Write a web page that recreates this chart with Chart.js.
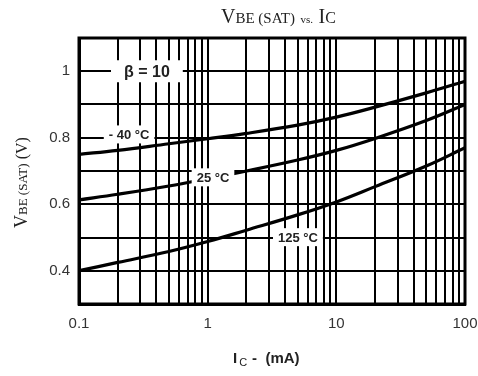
<!DOCTYPE html>
<html>
<head>
<meta charset="utf-8">
<script src="https://cdn.jsdelivr.net/npm/chart.js@4/dist/chart.umd.min.js"></script>
<style>
html,body{margin:0;padding:0;background:#fff;}
#wrap{width:478px;height:376px;position:relative;}
</style>
</head>
<body>
<div id="wrap"><canvas id="c" width="478" height="376"></canvas></div>
<script>
// ---- data ----
const currents   = [0.1, 0.2, 0.5, 1, 2, 5, 10, 20, 50, 100];          // IC (mA)
const vbeMinus40 = [0.75, 0.762, 0.782, 0.797, 0.813, 0.838, 0.862, 0.892, 0.935, 0.97];
const vbe25      = [0.613, 0.63, 0.655, 0.677, 0.70, 0.733, 0.762, 0.798, 0.852, 0.90];
const vbe125     = [0.40, 0.425, 0.458, 0.488, 0.522, 0.568, 0.607, 0.653, 0.715, 0.77];
const xTickLabels = [0.1, 1, 10, 100];
const yTickLabels = [0.4, 0.6, 0.8, 1];
const curveLabels = ['- 40 °C', '25 °C', '125 °C'];
const curveLabelIc = [0.245, 1.1, 5.03];
const curveLabelV  = [0.81, 0.681, 0.501];
const betaLabel = 'β = 10';
const betaIc = 0.337, betaV = 1.0;

// grid positions
const xGrid = [];
[0.1, 1, 10].forEach(d => { for (let k = 1; k <= 9; k++) xGrid.push(+(d * k).toPrecision(3)); });
xGrid.push(100);
const yGrid = [];
for (let i = 3; i <= 11; i++) yGrid.push(+(i / 10).toFixed(1));

function pts(ys) { return currents.map((x, i) => ({x: x, y: ys[i]})); }

const lineStyle = {
  borderColor: '#000', borderWidth: 3.2, pointRadius: 0, fill: false,
  tension: 0.4
};

const decorPlugin = {
  id: 'decor',
  afterDatasetsDraw(chart) {
    const ctx = chart.ctx;
    const xs = chart.scales.x, ys = chart.scales.y;
    const a = chart.chartArea;
    ctx.save();
    // curve labels with white boxes
    ctx.textBaseline = 'middle';
    ctx.textAlign = 'center';
    ctx.font = 'bold 13px "Liberation Sans", Arial, sans-serif';
    curveLabels.forEach((t, i) => {
      const px = xs.getPixelForValue(curveLabelIc[i]);
      const py = ys.getPixelForValue(curveLabelV[i]);
      const w = ctx.measureText(t).width;
      ctx.fillStyle = '#fff';
      ctx.fillRect(px - w / 2 - 5, py - 9, w + 10, 18);
      ctx.fillStyle = '#222';
      ctx.fillText(t, px, py + 1);
    });
    // beta label
    const bx = xs.getPixelForValue(betaIc), by = ys.getPixelForValue(betaV);
    ctx.font = 'bold 16px "Liberation Sans", Arial, sans-serif';
    const bw = ctx.measureText(betaLabel).width;
    ctx.fillStyle = '#fff';
    ctx.fillRect(bx - bw / 2 - 13, by - 11, bw + 26, 22);
    ctx.fillStyle = '#222';
    ctx.fillText(betaLabel, bx, by + 1);
    // frame
    ctx.strokeStyle = '#000';
    ctx.lineWidth = 3;
    ctx.strokeRect(a.left, a.top, a.right - a.left, a.bottom - a.top);

    // title: V_BE(SAT) vs. I_C
    ctx.fillStyle = '#222';
    ctx.textAlign = 'left';
    ctx.textBaseline = 'alphabetic';
    const ty = 23;
    let x = 221;
    const parts = [
      ['V', '20px "Liberation Serif", "Times New Roman", serif'],
      ['BE (SAT)', '15px "Liberation Serif", "Times New Roman", serif'],
      ['  vs.  ', '11px "Liberation Serif", "Times New Roman", serif'],
      ['I', '20px "Liberation Serif", "Times New Roman", serif'],
      ['C', '16px "Liberation Serif", "Times New Roman", serif']
    ];
    parts.forEach(p => { ctx.font = p[1]; ctx.fillText(p[0], x, ty); x += ctx.measureText(p[0]).width; });

    // y axis title (rotated)
    ctx.save();
    ctx.translate(27, 228);
    ctx.rotate(-Math.PI / 2);
    let yx = 0;
    const yparts = [
      ['V', '18px "Liberation Serif", "Times New Roman", serif'],
      ['BE (SAT)', '13px "Liberation Serif", "Times New Roman", serif'],
      [' (V)', '16px "Liberation Serif", "Times New Roman", serif']
    ];
    yparts.forEach(p => { ctx.font = p[1]; ctx.fillText(p[0], yx, 0); yx += ctx.measureText(p[0]).width; });
    ctx.restore();

    // x axis title: I_C - (mA)
    let xx = 233;
    const xb = 363;
    ctx.font = 'bold 15px "Liberation Sans", Arial, sans-serif';
    ctx.fillText('I', xx, xb); xx += ctx.measureText('I').width + 2;
    ctx.font = '11px "Liberation Sans", Arial, sans-serif';
    ctx.fillText('C', xx, xb + 3); xx += ctx.measureText('C').width + 5;
    ctx.font = 'bold 15px "Liberation Sans", Arial, sans-serif';
    ctx.fillText('-  (mA)', xx, xb);
    ctx.restore();
  }
};

new Chart(document.getElementById('c'), {
  type: 'line',
  data: {
    datasets: [
      Object.assign({label: '-40 °C', data: pts(vbeMinus40)}, lineStyle),
      Object.assign({label: '25 °C', data: pts(vbe25)}, lineStyle),
      Object.assign({label: '125 °C', data: pts(vbe125)}, lineStyle)
    ]
  },
  options: {
    responsive: false,
    animation: false,
    layout: {padding: {left: 0, right: 13, top: 38, bottom: 0}},
    plugins: {legend: {display: false}, tooltip: {enabled: false}, title: {display: false}},
    scales: {
      x: {
        type: 'logarithmic', min: 0.1, max: 100,
        afterBuildTicks(s) { s.ticks = xGrid.map(v => ({value: v})); },
        afterFit(s) { s.height = 72; s.paddingRight = 0; s.paddingLeft = 0; },
        grid: {color: '#000', lineWidth: 2, drawTicks: false},
        border: {display: true, color: '#000', width: 3},
        ticks: {
          autoSkip: false, maxRotation: 0, padding: 11,
          color: '#333', font: {family: '"Liberation Sans", Arial, sans-serif', size: 15},
          callback(v) { return xTickLabels.includes(+(+v).toPrecision(3)) ? String(+(+v).toPrecision(3)) : ''; }
        }
      },
      y: {
        type: 'linear', min: 0.3, max: 1.1,
        afterBuildTicks(s) { s.ticks = yGrid.map(v => ({value: v})); },
        afterFit(s) { s.width = 79; s.paddingTop = 0; s.paddingBottom = 0; },
        grid: {color: '#000', lineWidth: 2, drawTicks: false},
        border: {display: true, color: '#000', width: 3},
        ticks: {
          autoSkip: false, padding: 9,
          color: '#333', font: {family: '"Liberation Sans", Arial, sans-serif', size: 15},
          callback(v) { const r = +(+v).toFixed(1); return yTickLabels.includes(r) ? String(r) : ''; }
        }
      }
    }
  },
  plugins: [decorPlugin]
});
</script>
</body>
</html>
